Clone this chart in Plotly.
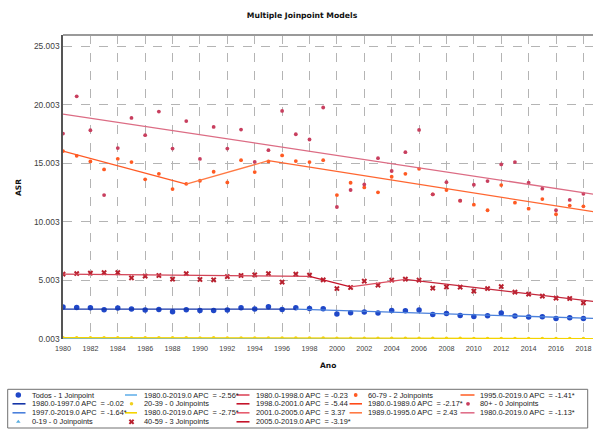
import plotly.graph_objects as go

# ---------------- data ----------------
years = list(range(1980, 2019))
todos = [2.73, 2.69, 2.67, 2.50, 2.64, 2.56, 2.47, 2.52, 2.33, 2.50, 2.44, 2.44, 2.47,
         2.67, 2.56, 2.75, 2.52, 2.67, 2.61, 2.58, 2.13, 2.24, 2.30, 2.22, 2.44, 2.41,
         2.47, 2.10, 2.18, 2.01, 1.93, 1.99, 2.22, 1.96, 1.88, 1.90, 1.76, 1.82, 1.76]
age0_19 = [0.03, 0.03, 0.03, 0.02, 0.03, 0.02, 0.02, 0.03, 0.02, 0.02, 0.02, 0.02, 0.02,
           0.02, 0.02, 0.02, 0.02, 0.02, 0.02, 0.02, 0.02, 0.01, 0.02, 0.01, 0.02, 0.01,
           0.01, 0.01, 0.01, 0.01, 0.01, 0.01, 0.01, 0.01, 0.01, 0.01, 0.01, 0.01, 0.01]
age20_39 = [0.12, 0.11, 0.12, 0.11, 0.11, 0.10, 0.11, 0.10, 0.10, 0.10, 0.09, 0.10, 0.09,
            0.09, 0.09, 0.08, 0.09, 0.08, 0.08, 0.08, 0.07, 0.07, 0.07, 0.07, 0.07, 0.06,
            0.06, 0.06, 0.06, 0.06, 0.05, 0.05, 0.05, 0.05, 0.05, 0.05, 0.04, 0.04, 0.04]
age40_59 = [5.54, 5.59, 5.62, 5.67, 5.67, 5.22, 5.37, 5.42, 5.11, 5.59, 5.08, 5.05, 5.33,
            5.42, 5.48, 5.59, 4.86, 5.54, 5.45, 5.05, 4.31, 4.40, 4.94, 4.60, 5.03, 5.11,
            5.03, 4.34, 4.45, 4.43, 4.09, 4.31, 4.48, 4.00, 3.83, 3.66, 3.49, 3.46, 3.09]
age60_79 = [16.04, 15.64, 15.16, 14.48, 15.38, 15.10, 13.63, 14.10, 12.80, 13.25, 13.51, 14.28, 13.37,
            15.27, 14.25, 15.16, 15.67, 15.19, 15.10, 15.27, 12.29, 13.34, 12.94, 12.52, 13.85, 14.10,
            14.53, 12.35, 12.72, 11.81, 11.47, 10.99, 13.14, 11.64, 11.13, 11.95, 10.65, 11.39, 11.33]
age80 = [17.54, 20.72, 17.82, 12.29, 16.30, 18.87, 17.40, 19.41, 16.26, 18.60, 15.37, 18.10, 16.26,
         17.88, 15.12, 16.12, 19.47, 17.48, 17.03, 19.76, 11.27, 12.72, 13.20, 15.44, 14.34, 15.95,
         17.85, 12.35, 13.39, 11.81, 13.17, 13.48, 14.90, 15.10, 13.34, 12.83, 10.99, 11.87, 12.40]

# fitted joinpoint models: joinpoint years and modelled values
todos_fit_x = [1980, 1997, 2019]
todos_fit_y = [2.56, 2.55, 1.75]
age0_19_fit_x = [1980, 2019]
age0_19_fit_y = [0.03, 0.011]
age20_39_fit_x = [1980, 2019]
age20_39_fit_y = [0.12, 0.04]
age40_59_fit_x = [1980, 1998, 2001, 2005, 2019]
age40_59_fit_y = [5.54, 5.34, 4.45, 5.10, 3.17]
age60_79_fit_x = [1980, 1989, 1995, 2019]
age60_79_fit_y = [16.04, 13.22, 15.22, 10.82]
age80_fit_x = [1980, 2019]
age80_fit_y = [19.20, 12.32]

x_ticks = list(range(1980, 2019, 2))
y_ticks = [0.003, 5.003, 10.003, 15.003, 20.003, 25.003]
y_tick_text = ["0.003", "5.003", "10.003", "15.003", "20.003", "25.003"]

legend_items = [
    ("Todos - 1 Joinpoint", "marker", "todos"),
    ("1980.0-1997.0 APC  = -0.02", "line", "#1535a8"),
    ("1997.0-2019.0 APC  = -1.64*", "line", "#4a80dc"),
    ("0-19 - 0 Joinpoints", "marker", "a0"),
    ("1980.0-2019.0 APC  = -2.56*", "line", "#66b2ea"),
    ("20-39 - 0 Joinpoints", "marker", "a20"),
    ("1980.0-2019.0 APC  = -2.75*", "line", "#f5d400"),
    ("40-59 - 3 Joinpoints", "marker", "a40"),
    ("1980.0-1998.0 APC  = -0.23", "line", "#dc4a5c"),
    ("1998.0-2001.0 APC  = -5.44", "line", "#c4142a"),
    ("2001.0-2005.0 APC  = 3.37", "line", "#e65c6e"),
    ("2005.0-2019.0 APC  = -3.19*", "line", "#c4142a"),
    ("60-79 - 2 Joinpoints", "marker", "a60"),
    ("1980.0-1989.0 APC  = -2.17*", "line", "#ff4a18"),
    ("1989.0-1995.0 APC  = 2.43", "line", "#ff7a44"),
    None,
    ("1995.0-2019.0 APC  = -1.41*", "line", "#ff6630"),
    ("80+ - 0 Joinpoints", "marker", "a80"),
    ("1980.0-2019.0 APC  = -1.13*", "line", "#e0708a"),
]

# ---------------- styles ----------------
marker_styles = {
    "todos": dict(symbol="circle", size=5.5, color="#1f47c8"),
    "a0": dict(symbol="triangle-up", size=4, color="#5aaee0"),
    "a20": dict(symbol="circle", size=3.5, color="#f0d020"),
    "a40": dict(symbol="x", size=5, color="#b8202e", line=dict(width=0)),
    "a60": dict(symbol="circle", size=3.8, color="#ff5a22"),
    "a80": dict(symbol="circle", size=3.8, color="#c83e5e"),
}

W, H = 593, 429
MT = 35
PLOT_L, PLOT_B = 63, 339
area_h = H - MT

fig = go.Figure()

def add_fit(xs, ys, colors):
    for i in range(len(xs) - 1):
        fig.add_trace(go.Scatter(x=xs[i:i + 2], y=ys[i:i + 2], mode="lines",
                                 line=dict(color=colors[i], width=1.3),
                                 showlegend=False, hoverinfo="skip"))

def add_points(ys, key):
    fig.add_trace(go.Scatter(x=years, y=ys, mode="markers", marker=marker_styles[key],
                             showlegend=False))

add_points(age0_19, "a0")
add_points(age20_39, "a20")
add_fit(age0_19_fit_x, age0_19_fit_y, ["#66b2ea"])
add_fit(age20_39_fit_x, age20_39_fit_y, ["#f5d400"])
add_points(todos, "todos")
add_fit(todos_fit_x, todos_fit_y, ["#1535a8", "#4a80dc"])
add_points(age40_59, "a40")
add_fit(age40_59_fit_x, age40_59_fit_y, ["#d24356", "#c4142a", "#dc5062", "#c4283c"])
add_points(age60_79, "a60")
add_fit(age60_79_fit_x, age60_79_fit_y, ["#ff5a24", "#ff7a44", "#ff6630"])
add_points(age80, "a80")
add_fit(age80_fit_x, age80_fit_y, ["#dc6c84"])

# ---------------- legend (drawn in pixel coordinates on x2/y2) ----------------
row_y = [395.0, 403.8, 412.8, 421.8]
col_sym = [(12.5, 25.5, 18.3), (125, 137, 131.5), (236.5, 249.5, 243), (349.5, 362, 355.7), (460.5, 474.5, 468)]
col_txt = [30, 141.5, 253.5, 366, 477.5]
annotations = []
shapes = []
for idx, item in enumerate(legend_items):
    if item is None:
        continue
    c, r = divmod(idx, 4)
    label, kind, style = item
    yy = row_y[r]
    x0, x1, xm = col_sym[c]
    if kind == "line":
        shapes.append(dict(type="line", xref="x2", yref="y2", x0=x0, x1=x1, y0=yy, y1=yy,
                           line=dict(color=style, width=1.6)))
    else:
        ms = dict(marker_styles[style])
        fig.add_trace(go.Scatter(x=[xm], y=[yy], mode="markers", marker=ms, xaxis="x2",
                                 yaxis="y2", showlegend=False, hoverinfo="skip"))
    annotations.append(dict(x=col_txt[c], y=yy, xref="x2", yref="y2", text=label,
                            showarrow=False, xanchor="left", yanchor="middle",
                            font=dict(family="Liberation Sans", size=7.4, color="#1a1a1a")))

shapes.append(dict(type="rect", xref="x2", yref="y2", x0=7.7, x1=587.7, y0=389.3, y1=428,
                   line=dict(color="#707070", width=1), fillcolor="rgba(0,0,0,0)"))
# top border of plot
shapes.append(dict(type="line", xref="x domain", yref="y domain", x0=0, x1=1, y0=1, y1=1,
                   line=dict(color="#9a9a9a", width=2)))

annotations.append(dict(x=18, y=188, xref="x2", yref="y2", text="<b>ASR</b>", textangle=-90,
                        showarrow=False, font=dict(family="DejaVu Sans", size=7.5, color="#111")))
annotations.append(dict(x=328, y=365, xref="x2", yref="y2", text="<b>Ano</b>",
                        showarrow=False, font=dict(family="DejaVu Sans", size=7.5, color="#111")))

fig.update_layout(
    width=W, height=H,
    margin=dict(l=0, r=0, t=MT, b=0, autoexpand=False),
    paper_bgcolor="white",
    plot_bgcolor="rgba(0,0,0,0)",
    title=dict(text="<b>Multiple Joinpoint Models</b>", x=302 / W, y=1 - 15 / H,
               xanchor="center", yanchor="middle", automargin=False,
               font=dict(family="DejaVu Sans", size=7.7, color="#111")),
    xaxis=dict(domain=[PLOT_L / W, 1], range=[1980, 2018.7], tickvals=x_ticks,
               ticktext=[str(v) for v in x_ticks], showgrid=True, gridcolor="#b4b4b4",
               griddash="dash", gridwidth=1, zeroline=False, showline=False, ticks="",
               automargin=False, ticklabelstandoff=4,
               tickfont=dict(family="Liberation Sans", size=7.2, color="#404040"),
               fixedrange=True),
    yaxis=dict(domain=[(H - PLOT_B) / area_h, 1], range=[0.003, 25.95], tickvals=y_ticks,
               ticktext=y_tick_text, showgrid=True, gridcolor="#b4b4b4", griddash="dash",
               gridwidth=1, zeroline=False, showline=True, linecolor="#555555", linewidth=1.5,
               ticks="", automargin=False,
               tickfont=dict(family="Liberation Sans", size=8.4, color="#404040"),
               fixedrange=True),
    xaxis2=dict(domain=[0, 1], range=[0, W], visible=False, fixedrange=True, automargin=False),
    yaxis2=dict(domain=[0, 1], range=[H, MT], visible=False, fixedrange=True, automargin=False),
    shapes=shapes,
    annotations=annotations,
)

fig.write_html("out.html", config=dict(displayModeBar=False),
               post_script="document.body.style.margin='0';document.body.style.overflow='hidden';")
